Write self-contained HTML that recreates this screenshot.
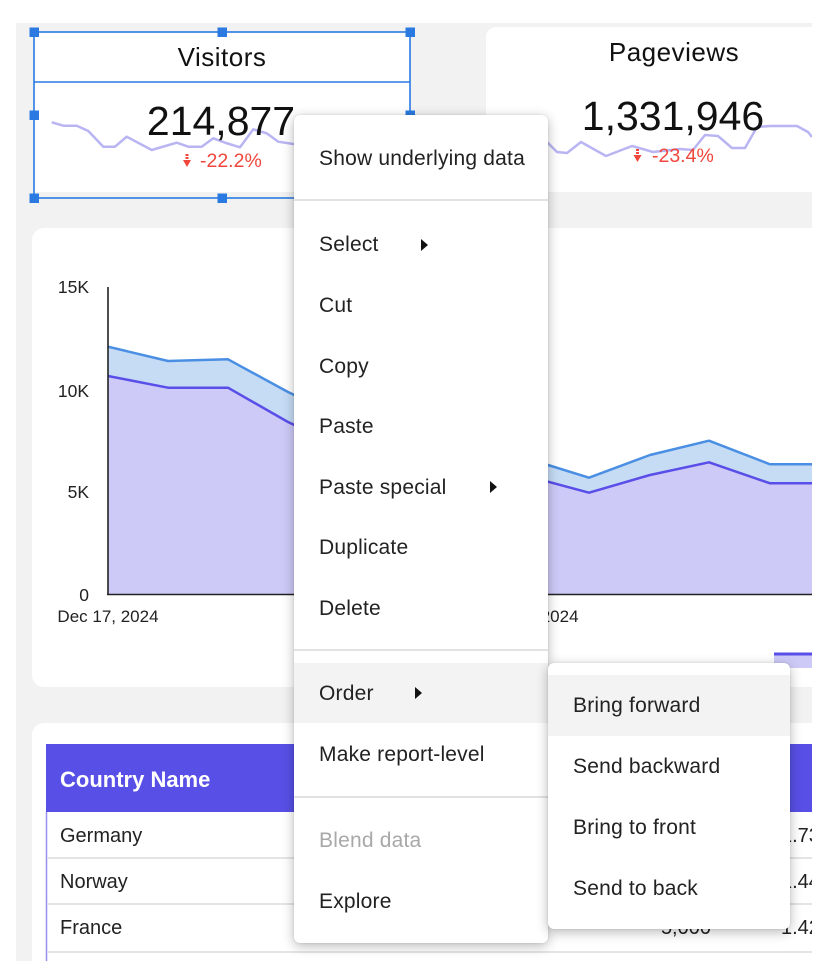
<!DOCTYPE html>
<html><head><meta charset="utf-8"><style>
html,body{margin:0;padding:0;background:#fff;}
body{width:840px;height:978px;position:relative;overflow:hidden;font-family:"Liberation Sans",Arial,sans-serif;}
.menu{position:absolute;background:#fff;border-radius:6px;box-shadow:0 3px 12px rgba(0,0,0,0.28),0 0 2px rgba(0,0,0,0.12);}
.it{position:absolute;left:0;right:0;height:60px;line-height:62px;font-size:21px;letter-spacing:0.2px;color:#222;padding-left:25px;box-sizing:border-box;white-space:nowrap;}
.hl{background:#f3f3f3;}
.div{position:absolute;left:0;right:0;height:1.5px;background:#e2e2e2;}
.arr{position:absolute;width:0;height:0;border-top:6.5px solid transparent;border-bottom:6.5px solid transparent;border-left:7.5px solid #111;}
</style></head><body>
<svg width="840" height="978" style="position:absolute;left:0;top:0" xmlns="http://www.w3.org/2000/svg">
<defs><clipPath id="dash"><rect x="16" y="23" width="796" height="938"/></clipPath></defs>
<g clip-path="url(#dash)" font-family="Liberation Sans, Arial, sans-serif">
<rect x="16" y="23" width="796" height="938" fill="#f2f2f2"/>
<rect x="34" y="32" width="376" height="160" fill="#fff"/>
<rect x="486" y="27" width="360" height="165" rx="10" fill="#fff"/>
<rect x="32" y="228" width="820" height="459" rx="12" fill="#fff"/>
<rect x="32" y="723" width="820" height="300" rx="12" fill="#fff"/>

<polyline fill="none" stroke="#b9b5f3" stroke-width="2.5" stroke-linejoin="round" points="51.7,122.3 63.3,125.7 76.7,125.7 88.3,131 103.3,146.7 115,146.7 126.7,136.7 151.7,150 176.7,142.7 188.3,146.7 201.7,146.7 213.3,138.3 226,143 240,147.3 253.3,129.3 266.7,133.3 278.3,141.7 293.3,144 320,146 360,140 392,135"/>
<text x="221" y="135" font-size="41" text-anchor="middle" fill="#111">214,877</text>
<g fill="#f0463c"><rect x="185.5" y="154" width="3" height="2"/><rect x="185.5" y="157" width="3" height="2"/><polygon points="183,160 191,160 187,167"/></g>
<text x="200" y="167" font-size="19.5" fill="#f0463c">-22.2%</text>
<text x="222" y="66" font-size="26" letter-spacing="0.5" text-anchor="middle" fill="#111">Visitors</text>

<polyline fill="none" stroke="#b9b5f3" stroke-width="2.5" stroke-linejoin="round" points="500,135 530,140 548,143 557,152 567,153 581,142 606,156 632,146 653,152 680,149 693,150 705,135 718,136 732,148 745,148 757,127 770,126 797,126 808,132 812,137"/>
<text x="673" y="130" font-size="41" text-anchor="middle" fill="#111">1,331,946</text>
<g fill="#f0463c"><rect x="636" y="149" width="3" height="2"/><rect x="636" y="152" width="3" height="2"/><polygon points="633.5,155 641.5,155 637.5,162"/></g>
<text x="652" y="162" font-size="19.5" fill="#f0463c">-23.4%</text>
<text x="674" y="61" font-size="26" letter-spacing="0.5" text-anchor="middle" fill="#111">Pageviews</text>

<polygon fill="#c6dcf5" points="108,346.7 168,361 228,359.3 288,392 348,420 408,440 468,450 528,459 548,465 589,477.7 650,455 709,440.7 770,464.3 812,464.3 812,483.3 770,483.3 709,462.3 650,475 589,492.7 548,481.7 528,476 468,478 408,468 348,450 288,422 228,387.7 168,387.7 108,376"/>
<polygon fill="#cdcaf7" points="108,376 168,387.7 228,387.7 288,422 348,450 408,468 468,478 528,476 548,481.7 589,492.7 650,475 709,462.3 770,483.3 812,483.3 812,594 108,594"/>
<polyline fill="none" stroke="#4a8fe3" stroke-width="2.5" stroke-linejoin="round" points="108,346.7 168,361 228,359.3 288,392 348,420 408,440 468,450 528,459 548,465 589,477.7 650,455 709,440.7 770,464.3 812,464.3"/>
<polyline fill="none" stroke="#5a4ee8" stroke-width="2.5" stroke-linejoin="round" points="108,376 168,387.7 228,387.7 288,422 348,450 408,468 468,478 528,476 548,481.7 589,492.7 650,475 709,462.3 770,483.3 812,483.3"/>
<line x1="108" y1="287" x2="108" y2="595" stroke="#222" stroke-width="1.6"/>
<line x1="107" y1="594.5" x2="812" y2="594.5" stroke="#222" stroke-width="1.6"/>
<g font-size="17.5" fill="#222" text-anchor="end">
<text x="89" y="293">15K</text><text x="89" y="397">10K</text><text x="89" y="498">5K</text><text x="89" y="601">0</text>
</g>
<g font-size="17" fill="#222" text-anchor="middle">
<text x="108" y="622">Dec 17, 2024</text><text x="528" y="622">Dec 24, 2024</text>
</g>
<rect x="774" y="654" width="40" height="14" fill="#cdcaf7"/>
<rect x="774" y="652.5" width="40" height="3" fill="#5a4ee8"/>

<rect x="46" y="744" width="780" height="68" fill="#5850e6"/>
<text x="60" y="787" font-size="22" font-weight="bold" fill="#fff">Country Name</text>
<line x1="46.5" y1="812" x2="46.5" y2="961" stroke="#958ff0" stroke-width="1.5"/>
<g stroke="#dcdcdc" stroke-width="1.5">
<line x1="47" y1="858" x2="812" y2="858"/><line x1="47" y1="904" x2="812" y2="904"/><line x1="47" y1="952" x2="812" y2="952"/>
</g>
<g font-size="20" fill="#222">
<text x="60" y="842">Germany</text><text x="60" y="888">Norway</text><text x="60" y="934">France</text>
<text x="781" y="842">1.73</text><text x="781" y="888">1.44</text><text x="781" y="934">1.42</text>
<text x="711" y="934" text-anchor="end">5,000</text>
</g>

<g fill="none" stroke="#2a7ae2" stroke-width="1.6">
<rect x="34" y="32" width="376" height="166"/>
<line x1="34" y1="82" x2="410" y2="82"/>
</g>
<g fill="#2a7ae2">
<rect x="29.5" y="27.5" width="9.5" height="9.5"/><rect x="217.5" y="27.5" width="9.5" height="9.5"/><rect x="405.5" y="27.5" width="9.5" height="9.5"/>
<rect x="29.5" y="110.5" width="9.5" height="9.5"/><rect x="405.5" y="110.5" width="9.5" height="9.5"/>
<rect x="29.5" y="193.5" width="9.5" height="9.5"/><rect x="217.5" y="193.5" width="9.5" height="9.5"/><rect x="405.5" y="193.5" width="9.5" height="9.5"/>
</g>
</g>
</svg>

<div class="menu" style="left:294px;top:115px;width:254px;height:828px;">
  <div class="it" style="top:13px;">Show underlying data</div>
  <div class="div" style="top:84px;"></div>
  <div class="it" style="top:99px;">Select</div>
  <div class="arr" style="left:127px;top:123.5px;"></div>
  <div class="it" style="top:160px;">Cut</div>
  <div class="it" style="top:221px;">Copy</div>
  <div class="it" style="top:281px;">Paste</div>
  <div class="it" style="top:342px;">Paste special</div>
  <div class="arr" style="left:196px;top:366px;"></div>
  <div class="it" style="top:402px;">Duplicate</div>
  <div class="it" style="top:463px;">Delete</div>
  <div class="div" style="top:534px;"></div>
  <div class="it hl" style="top:548px;">Order</div>
  <div class="arr" style="left:121px;top:572px;"></div>
  <div class="it" style="top:609px;">Make report-level</div>
  <div class="div" style="top:681px;"></div>
  <div class="it" style="top:695px;color:#a8a8a8;">Blend data</div>
  <div class="it" style="top:756px;">Explore</div>
</div>

<div class="menu" style="left:548px;top:663px;width:242px;height:266px;">
  <div class="it hl" style="top:12px;height:61px;">Bring forward</div>
  <div class="it" style="top:73px;">Send backward</div>
  <div class="it" style="top:134px;">Bring to front</div>
  <div class="it" style="top:195px;">Send to back</div>
</div>
</body></html>
